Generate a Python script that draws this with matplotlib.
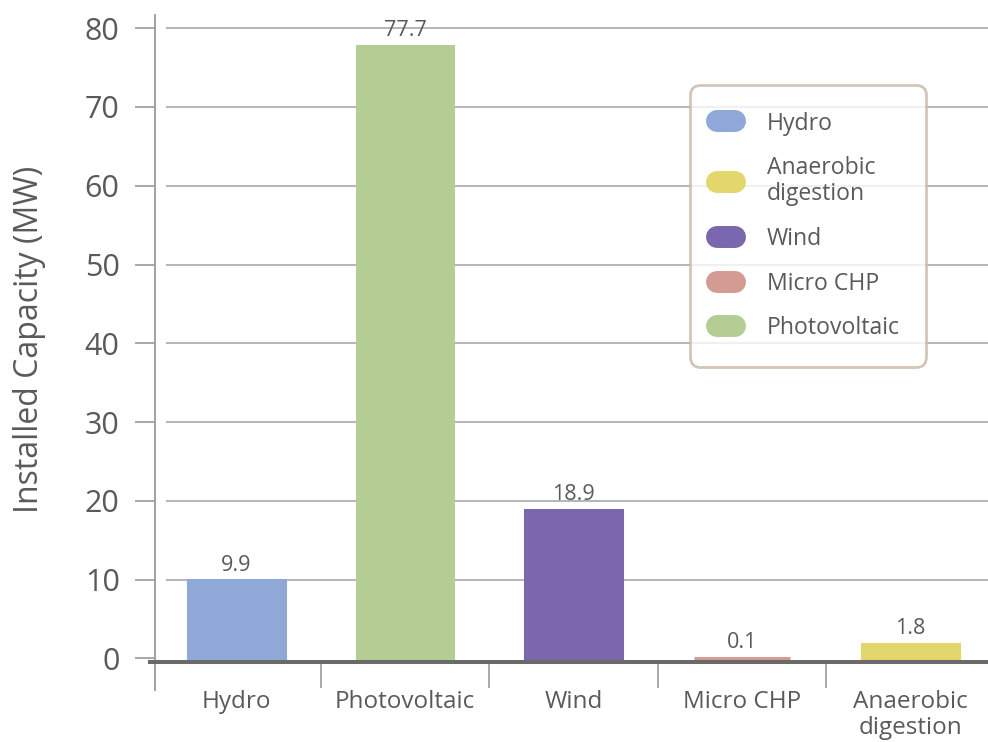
import matplotlib
matplotlib.use("Agg")
import matplotlib.pyplot as plt
from matplotlib.lines import Line2D

plt.rcParams['font.family'] = ['Open Sans', 'DejaVu Sans']

# Installed capacity by technology
categories = ["Hydro", "Photovoltaic", "Wind", "Micro CHP", "Anaerobic\ndigestion"]
capacity_mw = [9.9, 77.7, 18.9, 0.1, 1.8]
value_labels = ["9.9", "77.7", "18.9", "0.1", "1.8"]
bar_colors = ["#8fa8d7", "#b4cd94", "#7a67ae", "#d49b92", "#e3d66a"]

legend_labels = ["Hydro", "Anaerobic\ndigestion", "Wind", "Micro CHP", "Photovoltaic"]
legend_colors = ["#8fa8d7", "#e3d66a", "#7a67ae", "#d49b92", "#b4cd94"]

y_ticks = [0, 10, 20, 30, 40, 50, 60, 70, 80]

TEXT = "#5a5a5a"
GRID = "#b0b0b0"
AXIS = "#9a9a9a"

fig = plt.figure(figsize=(9.88, 7.42), dpi=100)
ax = fig.add_axes([0, 0, 1, 1])
ax.set_facecolor("white")

ax.set_xlim(-1.4036, 4.46)
ax.set_ylim(-10.6, 83.57)

x = list(range(len(categories)))
spine_x = -0.4837
baseline_y = -0.45

# horizontal grid, starting a little right of the axis line
ax.hlines(y_ticks[1:], spine_x + 0.065, ax.get_xlim()[1], color=GRID, lw=1.3, zorder=1)

# bars get a thin edge in their own colour so very small values stay visible
ax.bar(x, capacity_mw, width=0.57, color=bar_colors, edgecolor=bar_colors,
       linewidth=2.2, zorder=2)

for xi, v, lab in zip(x, capacity_mw, value_labels):
    ax.annotate(lab, (xi, v), xytext=(0, 3.5), textcoords="offset points",
                ha="center", va="bottom", fontsize=15.5, color=TEXT, zorder=3)

# spines
for s in ["top", "right"]:
    ax.spines[s].set_visible(False)
ax.spines["left"].set_position(("data", spine_x))
ax.spines["left"].set_bounds(-4.0, 81.7)
ax.spines["left"].set_color(AXIS)
ax.spines["left"].set_linewidth(1.3)
ax.spines["bottom"].set_position(("data", baseline_y))
ax.spines["bottom"].set_bounds(spine_x - 0.03, ax.get_xlim()[1])
ax.spines["bottom"].set_color("#6a6a6a")
ax.spines["bottom"].set_linewidth(2.9)
ax.spines["bottom"].set_zorder(4)

# y axis ticks
ax.set_yticks(y_ticks)
ax.set_yticklabels([str(t) for t in y_ticks])
ax.tick_params(axis="y", direction="out", length=14.5, width=1.2, color=AXIS,
               pad=11, labelsize=22, labelcolor=TEXT)

# x axis: labels at bar centres, separators between categories
ax.set_xticks(x)
ax.set_xticklabels(categories, linespacing=1.1)
ax.tick_params(axis="x", which="major", length=0, pad=20.5, labelsize=17.5, labelcolor=TEXT)
ax.set_xticks([i + 0.5 for i in x[:-1]], minor=True)
ax.tick_params(axis="x", which="minor", direction="out", length=18.5, width=1.2,
               color=AXIS)
for lab in ax.get_xticklabels():
    lab.set_verticalalignment("top")

ax.set_ylabel("Installed Capacity (MW)", fontsize=23, color=TEXT)
ax.yaxis.set_label_coords(0.0466, 0.543)

# legend with pill-shaped swatches
handles = [Line2D([0], [0], color=c, lw=15.8, solid_capstyle="round") for c in legend_colors]
leg = ax.legend(handles, legend_labels, loc="upper left",
                bbox_to_anchor=(0.6984, 0.8854), fontsize=16.6, frameon=True,
                fancybox=True, handlelength=0.78, handletextpad=1.4,
                labelspacing=0.9, borderpad=1.15, borderaxespad=0)
frame = leg.get_frame()
frame.set_edgecolor("#c9b8a8")
frame.set_linewidth(2)
frame.set_boxstyle("round", pad=0, rounding_size=0.45)
for t in leg.get_texts():
    t.set_color(TEXT)
    t.set_linespacing(1.1)

fig.savefig("out.png", dpi=100)
